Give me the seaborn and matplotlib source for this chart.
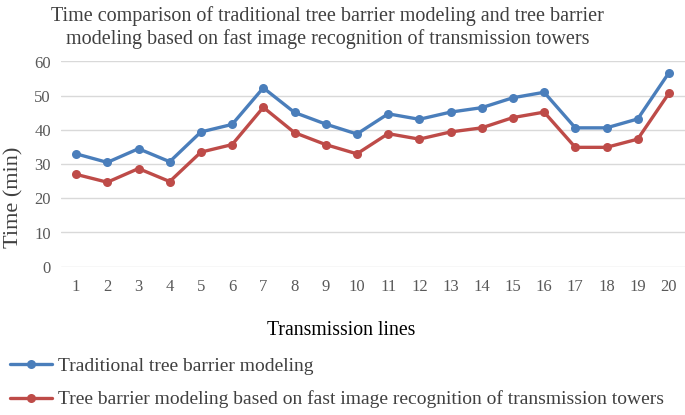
import matplotlib
matplotlib.use("Agg")
import matplotlib.pyplot as plt
import seaborn as sns
import pandas as pd

lines = list(range(1, 21))
traditional = [33.0, 30.5, 34.5, 30.7, 39.4, 41.6, 52.3, 45.1, 41.7, 38.8,
               44.7, 43.1, 45.2, 46.5, 49.4, 51.0, 40.6, 40.6, 43.2, 56.7]
fast = [27.0, 24.7, 28.7, 24.9, 33.5, 35.7, 46.6, 39.2, 35.7, 33.0,
        38.9, 37.3, 39.4, 40.6, 43.6, 45.2, 34.9, 34.9, 37.3, 50.7]
series_names = ["Traditional tree barrier modeling",
                "Tree barrier modeling based on fast image recognition of transmission towers"]
title = ("Time comparison of traditional tree barrier modeling and tree barrier\n"
         "modeling based on fast image recognition of transmission towers")
yticks = [0, 10, 20, 30, 40, 50, 60]

df = pd.DataFrame({
    "line": lines * 2,
    "time": traditional + fast,
    "series": [series_names[0]] * 20 + [series_names[1]] * 20,
})

sns.set_theme(style="white")
plt.rcParams["font.family"] = ["Liberation Serif", "DejaVu Serif"]

fig = plt.figure(figsize=(6.85, 4.15), dpi=100)
ax = fig.add_axes([60.5 / 685, 1 - 266.7 / 415, (684.5 - 60.5) / 685, (266.7 - 61.5) / 415])

palette = {series_names[0]: "#4A7EBB", series_names[1]: "#BE4B48"}
sns.lineplot(data=df, x="line", y="time", hue="series", palette=palette, ax=ax,
             marker="o", markersize=6.5, markeredgewidth=0, linewidth=2.4, legend=True)

ax.set_xlim(0.5, 20.5)
ax.set_ylim(0, 60)
ax.set_yticks(yticks)
ax.set_xticks(lines)
ax.set_xticklabels([str(i) for i in lines])
ax.grid(axis="y", color="#D9D9D9", linewidth=1)
ax.set_axisbelow(True)
for s in ax.spines.values():
    s.set_visible(False)
ax.tick_params(axis="both", length=0, labelsize=12, labelcolor="#595959")
ax.tick_params(axis="x", pad=9)
ax.tick_params(axis="y", pad=7)

ax.set_xlabel("Transmission lines", fontsize=14.2, color="#000000")
ax.xaxis.set_label_coords(0.45, -0.265)
ax.set_ylabel("Time (min)", fontsize=16, color="#404040")
ax.yaxis.set_label_coords(-0.059, 0.34)

fig.text(0.478, 0.933, title, ha="center", va="center", fontsize=14.5, color="#404040",
         linespacing=1.2)

handles, labels = ax.get_legend_handles_labels()
ax.legend_.remove()
fig.legend(handles, labels, loc="lower left", bbox_to_anchor=(-0.003, -0.012), frameon=False,
           fontsize=14, labelcolor="#404040", handlelength=2.2, handletextpad=0.3,
           labelspacing=0.78, borderaxespad=0.2)

fig.savefig("out.png", dpi=100)
